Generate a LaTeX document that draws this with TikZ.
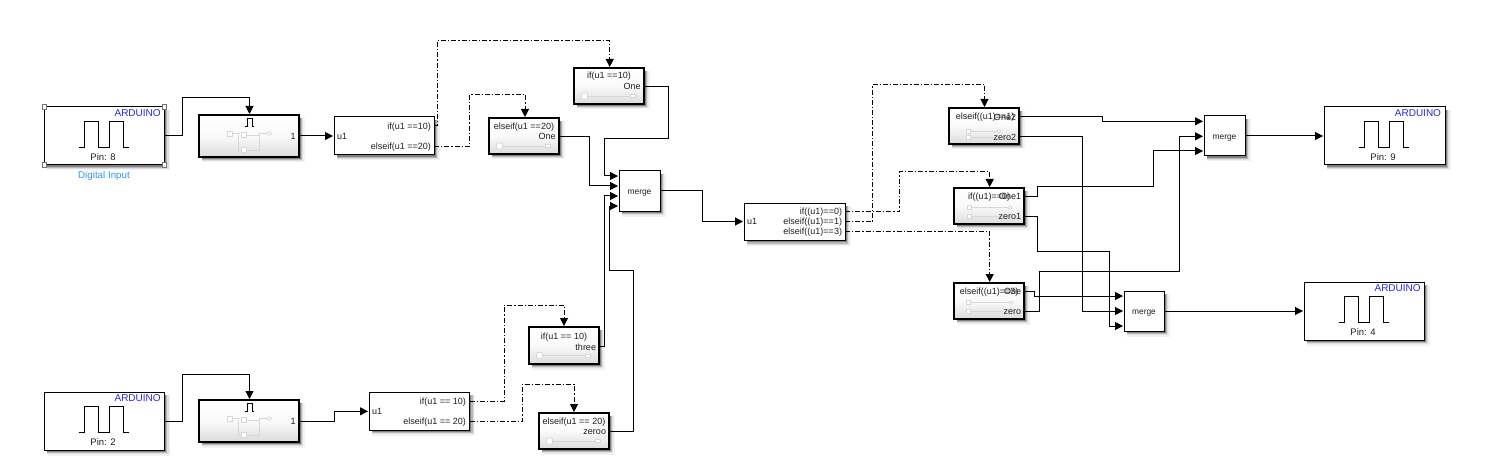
\documentclass[tikz,border=0pt]{standalone}
\usepackage{fontspec}
\setmainfont{Liberation Sans}
\usetikzlibrary{arrows.meta}
\definecolor{ardblue}{RGB}{40,40,225}
\definecolor{linkblue}{RGB}{50,150,240}
\definecolor{icongray}{RGB}{215,215,215}
\definecolor{txtgray}{RGB}{30,30,30}
\tikzset{
  plainblock/.style={draw=black,fill=white,line width=1pt,inner sep=0pt,outer sep=0pt,anchor=north west},
  heavyblock/.style={draw=black,line width=2.6pt,inner sep=0pt,outer sep=0pt,anchor=north west,
     top color=white,bottom color=black!14,middle color=black!2},
  base/.style={inner sep=0pt,outer sep=0pt,text height=.85em,text depth=.2em,text=txtgray,font=\fontsize{9}{10}\selectfont},
  lblr/.style={base,anchor=east},
  lbll/.style={base,anchor=west},
  lblc/.style={base,anchor=center},
  ardlbl/.style={base,anchor=east,text=ardblue,font=\fontsize{10}{11}\selectfont},
  pinlbl/.style={base,anchor=center,font=\fontsize{9.5}{11}\selectfont},
  linklbl/.style={base,anchor=center,text=linkblue,font=\fontsize{9.8}{11}\selectfont},
  mergelbl/.style={base,anchor=center,font=\fontsize{8.4}{10}\selectfont},
  wire/.style={draw=black,line width=1pt,-{Triangle[length=8pt,width=8pt]},shorten >=1pt},
  actionwire/.style={wire,dash pattern=on 5pt off 2pt on 1.3pt off 2pt},
  handle/.style={draw=black!55,fill=white,line width=.8pt,minimum size=4.5pt,inner sep=0pt},
  iconline/.style={draw=icongray,line width=.8pt},
  iconsq/.style={draw=icongray,fill=white,line width=.8pt},
}
% soft shadow under a block: left, top, width, height
\newcommand{\softshade}[4]{%
  \fill[black!5] (#1+3,#2+3) rectangle (#1+#3+5.5,#2+#4+5.5);
  \fill[black!13] (#1+3,#2+3) rectangle (#1+#3+4.3,#2+#4+4.3);
  \fill[black!28] (#1+3,#2+3) rectangle (#1+#3+3.1,#2+#4+3.1);
  \fill[black!50] (#1+3,#2+3) rectangle (#1+#3+1.9,#2+#4+1.9);}
% pulse glyph of an Arduino block, measured from its top left corner
\newcommand{\ardpulse}[2]{%
  \draw[line width=1pt,black] (#1+35,#2+40.3) -- (#1+40,#2+40.3) -- (#1+40,#2+14.3) -- (#1+54.4,#2+14.3)
   -- (#1+54.4,#2+40.3) -- (#1+65,#2+40.3) -- (#1+65,#2+14.3) -- (#1+79.4,#2+14.3) -- (#1+79.4,#2+40.3) -- (#1+84.4,#2+40.3);}
% faint slider of an action block
\newcommand{\actslider}[3]{%
  \draw[iconline] (#1,#3) -- (#2,#3);
  \draw[iconsq,rounded corners=1pt] (#1-3,#3-3) rectangle (#1+3,#3+3);
  \draw[iconsq] (#2-2.5,#3-1.5) rectangle (#2+2.5,#3+1.5);}
% faint glyph of the triggered subsystem
\newcommand{\trigicon}[2]{%
  \draw[line width=1pt,black] (#1+46,#2+11.5) -- (#1+48,#2+11.5) -- (#1+48,#2+3.5) -- (#1+53,#2+3.5) -- (#1+53,#2+11.5) -- (#1+55,#2+11.5);
  \draw[iconline] (#1+34,#2+18.5) -- (#1+41,#2+18.5);
  \draw[iconline] (#1+48,#2+20) -- (#1+60,#2+20) -- (#1+60,#2+18.5) -- (#1+67,#2+18.5);
  \draw[iconline] (#1+39,#2+20) -- (#1+39,#2+35) -- (#1+41,#2+35);
  \draw[iconline] (#1+48,#2+35) -- (#1+60,#2+35) -- (#1+60,#2+20);
  \draw[iconsq] (#1+28.5,#2+16) rectangle (#1+33.5,#2+21);
  \draw[iconsq] (#1+42,#2+17.5) rectangle (#1+47,#2+22.5);
  \draw[iconsq] (#1+42,#2+32.5) rectangle (#1+47,#2+37.5);
  \draw[iconsq] (#1+70,#2+18.5) ellipse (2.5 and 1.5);}
% faint glyph of a two output action block
\newcommand{\dualicon}[5]{%
  \draw[iconline] (#1,#3) -- (#2,#3);
  \draw[iconline] (#1,#4) -- (#5,#4);
  \draw[iconsq] (#1-2,#3-2) rectangle (#1+2,#3+2);
  \draw[iconsq] (#1-2,#4-2) rectangle (#1+2,#4+2);
  \draw[iconsq] (#2,#3) ellipse (2 and 1.3);}
\begin{document}
\begin{tikzpicture}[x=1pt,y=-1pt]
\useasboundingbox (0,0) rectangle (1506,473);
\fill[white] (0,0) rectangle (1506,473);

% ---- shadows ----
\softshade{44.3}{107}{120}{58}
\softshade{44.3}{392}{120}{58}
\softshade{1324}{107}{121}{58}
\softshade{1304}{282}{120}{58}
\softshade{199}{115}{100}{42}
\softshade{199}{400}{100}{42}
\softshade{334}{117}{100}{38}
\softshade{369}{392}{100.5}{38}
\softshade{744}{203}{101}{37.5}
\softshade{574}{68}{70}{36}
\softshade{489}{118}{70}{36}
\softshade{529}{327}{70}{37}
\softshade{539}{413}{70}{36}
\softshade{949}{108}{70}{36}
\softshade{954}{188}{70}{36}
\softshade{954}{283}{70}{36}
\softshade{619}{171}{41}{40}
\softshade{1204}{116}{41}{40}
\softshade{1124}{291}{40}{40}

% ---- blocks ----
\node[plainblock,minimum width=120pt,minimum height=58pt] (ardA) at (44.3,107) {};
\node[plainblock,minimum width=120pt,minimum height=58pt] (ardB) at (44.3,392) {};
\node[plainblock,minimum width=121pt,minimum height=58pt] (ardC) at (1324,107) {};
\node[plainblock,minimum width=120pt,minimum height=58pt] (ardD) at (1304,282) {};
\node[heavyblock,minimum width=100pt,minimum height=42pt] (trigA) at (199,115) {};
\node[heavyblock,minimum width=100pt,minimum height=42pt] (trigB) at (199,400) {};
\node[plainblock,minimum width=100pt,minimum height=38pt] (ifA) at (334,117) {};
\node[plainblock,minimum width=100.5pt,minimum height=38pt] (ifB) at (369,392) {};
\node[plainblock,minimum width=101pt,minimum height=37.5pt] (ifC) at (744,203) {};
\node[heavyblock,minimum width=70pt,minimum height=36pt] (actA) at (574,68) {};
\node[heavyblock,minimum width=70pt,minimum height=36pt] (actB) at (489,118) {};
\node[heavyblock,minimum width=70pt,minimum height=37pt] (actC) at (529,327) {};
\node[heavyblock,minimum width=70pt,minimum height=36pt] (actD) at (539,413) {};
\node[heavyblock,minimum width=70pt,minimum height=36pt] (actE) at (949,108) {};
\node[heavyblock,minimum width=70pt,minimum height=36pt] (actF) at (954,188) {};
\node[heavyblock,minimum width=70pt,minimum height=36pt] (actG) at (954,283) {};
\node[plainblock,minimum width=41pt,minimum height=40pt] (mergeA) at (619,171) {};
\node[plainblock,minimum width=41pt,minimum height=40pt] (mergeB) at (1204,116) {};
\node[plainblock,minimum width=40pt,minimum height=40pt] (mergeC) at (1124,291) {};

% ---- Arduino block contents ----
\ardpulse{44.3}{107}
\ardpulse{44.3}{392}
\ardpulse{1324.3}{107}
\ardpulse{1304.3}{282}
\node[ardlbl] (ardAt) at (160.7,113.6) {ARDUINO};
\node[ardlbl] (ardBt) at (160.7,398.6) {ARDUINO};
\node[ardlbl] (ardCt) at (1441,113.6) {ARDUINO};
\node[ardlbl] (ardDt) at (1420.7,288.6) {ARDUINO};
\node[pinlbl] (ardAp) at (103,157.7) {Pin: 8};
\node[pinlbl] (ardBp) at (103,442.7) {Pin: 2};
\node[pinlbl] (ardCp) at (1383,157.7) {Pin: 9};
\node[pinlbl] (ardDp) at (1363,332.7) {Pin: 4};
\node[linklbl] (ardAn) at (104,175) {Digital Input};
\foreach \hx/\hy/\hn in {44.3/107/a,164.3/107/b,44.3/165/c,164.3/165/d}
  \node[handle] (h\hn) at (\hx,\hy) {};

% ---- triggered subsystems ----
\trigicon{199}{115}
\trigicon{199}{400}
\node[lblr] (trigAo) at (295.7,136.7) {1};
\node[lblr] (trigBo) at (295.7,421.7) {1};

% ---- if blocks ----
\node[lbll] (ifAu) at (337,136.7) {u1};
\node[lblr] (ifAa) at (431,126) {if(u1 ==10)};
\node[lblr] (ifAb) at (431,146.5) {elseif(u1 ==20)};
\node[lbll] (ifBu) at (372,411.5) {u1};
\node[lblr] (ifBa) at (466,401) {if(u1 == 10)};
\node[lblr] (ifBb) at (466,421.5) {elseif(u1 == 20)};
\node[lbll] (ifCu) at (747,221.7) {u1};
\node[lblr] (ifCa) at (842,211.7) {if((u1)==0)};
\node[lblr] (ifCb) at (842,221.7) {elseif((u1)==1)};
\node[lblr] (ifCc) at (842,231.7) {elseif((u1)==3)};

% ---- action blocks with one output ----
\actslider{584.5}{632.5}{96}
\node[lblc] (actAt) at (609,75.7) {if(u1 ==10)};
\node[lblr] (actAo) at (640.7,86.7) {One};
\actslider{499.5}{547.5}{146}
\node[lblc] (actBt) at (524,126) {elseif(u1 ==20)};
\node[lblr] (actBo) at (555.7,136.7) {One};
\actslider{539.5}{587.5}{355.5}
\node[lblc] (actCt) at (564,336) {if(u1 == 10)};
\node[lblr] (actCo) at (596,347) {three};
\actslider{549.5}{597.5}{441}
\node[lblc] (actDt) at (574,421) {elseif(u1 == 20)};
\node[lblr] (actDo) at (606,431.5) {zeroo};

% ---- action blocks with two outputs ----
\dualicon{968.5}{999}{131.3}{137.3}{993}
\node[lblc] (actEt) at (985,116) {elseif((u1)==1)};
\node[lblr] (actEo) at (1016,117) {One2};
\node[lblr] (actEp) at (1016,137) {zero2};
\dualicon{969.5}{1010}{207.7}{216.3}{1000}
\node[lblc] (actFt) at (989,196) {if((u1)==0)};
\node[lblr] (actFo) at (1021,196.7) {One1};
\node[lblr] (actFp) at (1021,216.7) {zero1};
\dualicon{968.5}{1011.5}{302.7}{311}{1003}
\node[lblc] (actGt) at (989,291) {elseif((u1)==3)};
\node[lblr] (actGo) at (1021,291.5) {One};
\node[lblr] (actGp) at (1021,311.5) {zero};

% ---- merge labels ----
\node[mergelbl] (mergeAt) at (639.5,191.3) {merge};
\node[mergelbl] (mergeBt) at (1224.5,136.3) {merge};
\node[mergelbl] (mergeCt) at (1144,311.3) {merge};

% ---- ports ----
\coordinate (ifAoa) at (ifA.east |- ifAa);
\coordinate (ifAob) at (ifA.east |- ifAb);
\coordinate (ifBoa) at (ifB.east |- ifBa);
\coordinate (ifBob) at (ifB.east |- ifBb);
\coordinate (ifCoa) at (ifC.east |- ifCa);
\coordinate (ifCob) at (ifC.east |- ifCb);
\coordinate (ifCoc) at (ifC.east |- ifCc);
\coordinate (ifBin) at (369,411.3);
\coordinate (ifCin) at (744,221.5);
\coordinate (trigBin) at (249.5,400);
\coordinate (trigAin) at (249.5,115);
\coordinate (actAin) at (609.7,68);
\coordinate (actBin) at (525,118);
\coordinate (actCin) at (564,327);
\coordinate (actDin) at (574,413);
\coordinate (actEin) at (984.5,108);
\coordinate (actFin) at (989.7,188);
\coordinate (actGin) at (989.7,283);
\coordinate (actAout) at (644,86.7);
\coordinate (actBout) at (559,136.5);
\coordinate (actCout) at (599,346.7);
\coordinate (actDout) at (609,431);
\coordinate (actEoa) at (1019,116.7);
\coordinate (actEob) at (1019,136.7);
\coordinate (actFoa) at (1024,196.5);
\coordinate (actFob) at (1024,216.5);
\coordinate (actGoa) at (1024,291.2);
\coordinate (actGob) at (1024,311);
\coordinate (ardBout) at (164.3,421);
\coordinate (mAa) at (619,176);
\coordinate (mAb) at (619,186);
\coordinate (mAc) at (619,196);
\coordinate (mAd) at (619,206);
\coordinate (mBa) at (1204,121.3);
\coordinate (mBb) at (1204,136.3);
\coordinate (mBc) at (1204,151);
\coordinate (mCa) at (1124,296);
\coordinate (mCb) at (1124,311);
\coordinate (mCc) at (1124,326);

% ---- signal wires ----
\draw[wire] (ardA.east) -- (182.7,136) -- (182.7,97.5) -- (249.5,97.5) -- (trigAin);
\draw[wire] (trigA.east) -- (ifA.west);
\draw[wire] (ardBout) -- (182,421) -- (182,374.5) -- (249.5,374.5) -- (trigBin);
\draw[wire] (trigB.east) -- (334.3,421) -- (334.3,411.3) -- (ifBin);
\draw[wire] (actAout) -- (668.5,86.7) -- (668.5,138.3) -- (604.6,138.3) -- (604.6,176) -- (mAa);
\draw[wire] (actBout) -- (589.3,136.5) -- (589.3,186) -- (mAb);
\draw[wire] (actCout) -- (604.6,346.7) -- (604.6,196) -- (mAc);
\draw[wire] (actDout) -- (633.5,431) -- (633.5,270) -- (609.6,270) -- (609.6,206) -- (mAd);
\draw[wire] (mergeA.east) -- (702.7,191) -- (702.7,221.5) -- (ifCin);
\draw[wire] (actEoa) -- (1102.5,116.7) -- (1102.5,121.3) -- (mBa);
\draw[wire] (actEob) -- (1082.4,136.7) -- (1082.4,311) -- (mCb);
\draw[wire] (actFoa) -- (1037.5,196.5) -- (1037.5,186.5) -- (1153.5,186.5) -- (1153.5,151) -- (mBc);
\draw[wire] (actFob) -- (1037.5,216.5) -- (1037.5,251.5) -- (1109.4,251.5) -- (1109.4,326) -- (mCc);
\draw[wire] (actGoa) -- (1034.5,291.2) -- (1034.5,296) -- (mCa);
\draw[wire] (actGob) -- (1039.5,311) -- (1039.5,271.3) -- (1179.4,271.3) -- (1179.4,136.3) -- (mBb);
\draw[wire] (mergeB.east) -- (ardC.west);
\draw[wire] (mergeC.east) -- (ardD.west);

% ---- action wires ----
\draw[actionwire] (ifAoa) -- (437.5,126) -- (437.5,40.4) -- (609.7,40.4) -- (actAin);
\draw[actionwire] (ifAob) -- (469.7,146.5) -- (469.7,94.3) -- (525,94.3) -- (actBin);
\draw[actionwire] (ifBoa) -- (504.3,401) -- (504.3,305) -- (564,305) -- (actCin);
\draw[actionwire] (ifBob) -- (522,421.5) -- (522,384) -- (574,384) -- (actDin);
\draw[actionwire] (ifCoa) -- (899.4,211.7) -- (899.4,171.6) -- (989.7,171.6) -- (actFin);
\draw[actionwire] (ifCob) -- (872.4,221.7) -- (872.4,84.4) -- (984.5,84.4) -- (actEin);
\draw[actionwire] (ifCoc) -- (989.7,231.7) -- (actGin);
\end{tikzpicture}
\end{document}
